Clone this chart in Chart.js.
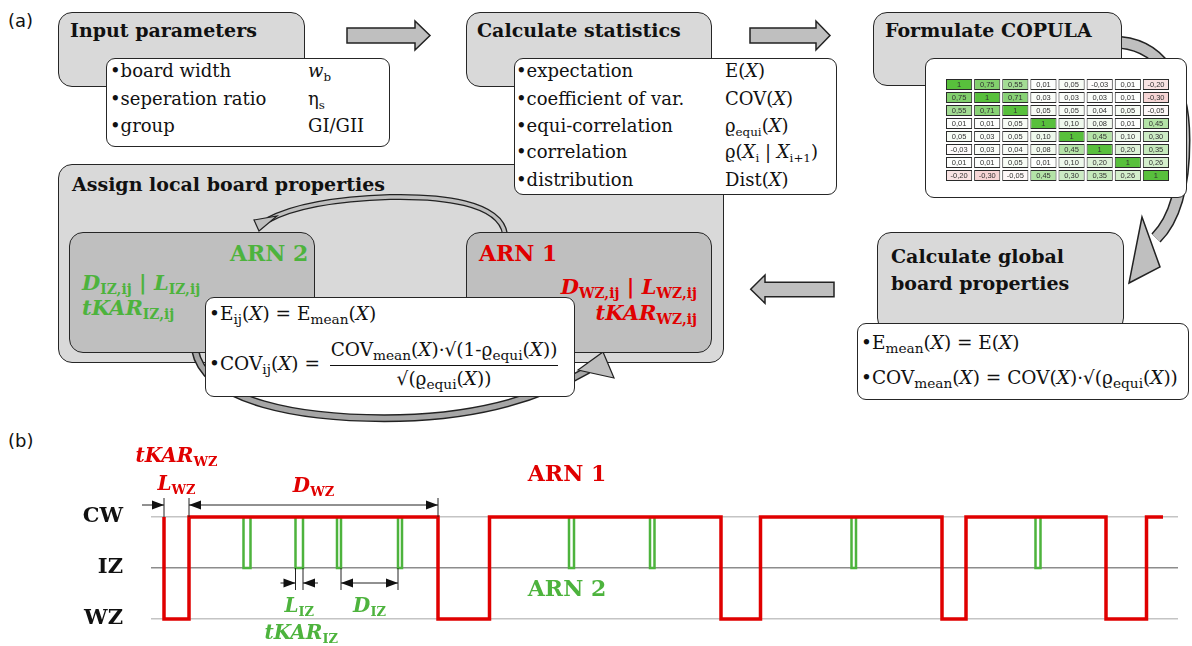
<!DOCTYPE html>
<html>
<head>
<meta charset="utf-8">
<script src="https://cdn.jsdelivr.net/npm/chart.js@4.4.0/dist/chart.umd.min.js"></script>
<style>
  body { margin: 0; background: #fff; }
  #page { position: relative; width: 1192px; height: 646px; overflow: hidden; font-family: "DejaVu Serif", serif; color: #111; }
  .box { position: absolute; box-sizing: border-box; border: 1.5px solid #262626; }
  .gray { background: #d9d9d9; border-radius: 14px; }
  .dark { background: #bfbfbf; border-radius: 14px; }
  .white { background: #fff; border-radius: 9px; }
  .t { position: absolute; white-space: nowrap; line-height: 1; }
  .title { font-weight: bold; font-size: 19px; }
  .li { font-size: 18px; }
  .fx { font-size: 18.5px; }
  .s { font-size: 0.66em; vertical-align: -0.3em; }
  .fx .s { font-size: 0.74em; }
  .i { font-style: italic; }
  .red { color: #e00000; }
  .green { color: #4db33d; }
  .arn { font-weight: bold; font-size: 22px; }
  .var { font-weight: bold; font-size: 21px; }
  .var .v { font-style: italic; }
  .var .s { font-style: normal; }
  .lab { font-family: "DejaVu Sans", sans-serif; font-size: 18px; }
  svg { position: absolute; left: 0; top: 0; }
</style>
</head>
<body>
<div id="page">

  <div class="t lab" style="left:8px;top:12px">(a)</div>
  <div class="t lab" style="left:8px;top:432px">(b)</div>

  <!-- back layer arrows -->
  <svg width="1192" height="646" style="z-index:0">
    <g fill="#bfbfbf" stroke="#222" stroke-width="1.5" stroke-linejoin="miter">
      <polygon points="347,28 415,28 415,21 430,35.5 415,50 415,43 347,43"/>
      <polygon points="750,28 816,28 816,21 830,35.5 816,50 816,43 750,43"/>
      <polygon points="834,282.3 765,282.3 765,275 750.7,289.3 765,303.3 765,296.7 834,296.7"/>
    </g>
    <path d="M1112 42 C1160 42 1184 80 1184 140 C1184 190 1174 220 1156 238" fill="none" stroke="#222" stroke-width="13"/>
    <path d="M1112 42 C1160 42 1184 80 1184 140 C1184 190 1174 220 1156 238" fill="none" stroke="#bfbfbf" stroke-width="10"/>
    <polygon points="1142,217 1129,283 1160,267" fill="#bfbfbf" stroke="#222" stroke-width="1.5"/>
  </svg>

  <!-- Input parameters -->
  <div class="box gray" style="left:58px;top:12px;width:247px;height:75px;z-index:1"></div>
  <div class="t title" style="left:70px;top:21px;z-index:3">Input parameters</div>
  <div class="box white" style="left:106px;top:58px;width:284px;height:89px;z-index:2"></div>
  <div class="t li" style="left:110px;top:62px;z-index:3">•board width</div>
  <div class="t li" style="left:308px;top:62px;z-index:3"><span class="i">w</span><span class="s">b</span></div>
  <div class="t li" style="left:110px;top:90px;z-index:3">•seperation ratio</div>
  <div class="t li" style="left:308px;top:90px;z-index:3">η<span class="s">s</span></div>
  <div class="t li" style="left:110px;top:117px;z-index:3">•group</div>
  <div class="t li" style="left:308px;top:117px;z-index:3">GI/GII</div>

  <!-- Calculate statistics -->
  <div class="box gray" style="left:466px;top:12px;width:246px;height:75px;z-index:1"></div>
  <div class="t title" style="left:477px;top:21px;z-index:3">Calculate statistics</div>

  <!-- Assign local board properties -->
  <div class="box gray" style="left:58px;top:164px;width:666px;height:199px;z-index:1"></div>
  <div class="t title" style="left:72px;top:175px;z-index:3">Assign local board properties</div>

  <div class="box white" style="left:514px;top:58px;width:323px;height:137px;z-index:4"></div>
  <div class="t li" style="left:516px;top:62px;z-index:5">•expectation</div>
  <div class="t li" style="left:725px;top:62px;z-index:5">E(<span class="i">X</span>)</div>
  <div class="t li" style="left:516px;top:90px;z-index:5">•coefficient of var.</div>
  <div class="t li" style="left:725px;top:90px;z-index:5">COV(<span class="i">X</span>)</div>
  <div class="t li" style="left:516px;top:117px;z-index:5">•equi-correlation</div>
  <div class="t li" style="left:725px;top:117px;z-index:5">ϱ<span class="s">equi</span>(<span class="i">X</span>)</div>
  <div class="t li" style="left:516px;top:143px;z-index:5">•correlation</div>
  <div class="t li" style="left:725px;top:143px;z-index:5">ϱ(<span class="i">X</span><span class="s">i</span> | <span class="i">X</span><span class="s">i+1</span>)</div>
  <div class="t li" style="left:516px;top:171px;z-index:5">•distribution</div>
  <div class="t li" style="left:725px;top:171px;z-index:5">Dist(<span class="i">X</span>)</div>

  <!-- loop arrows -->
  <svg width="1192" height="646" style="z-index:2">
    <path d="M505 234 C500 202 440 196 390 197 C330 199 290 208 268 220" fill="none" stroke="#222" stroke-width="6"/>
    <path d="M505 234 C500 202 440 196 390 197 C330 199 290 208 268 220" fill="none" stroke="#bfbfbf" stroke-width="3.5"/>
    <polygon points="254,220 259,231 277,216" fill="#bfbfbf" stroke="#222" stroke-width="1.2"/>
    <path d="M195 350 C205 402 300 420 400 418 C480 416 540 398 588 370" fill="none" stroke="#222" stroke-width="8"/>
    <path d="M195 350 C205 402 300 420 400 418 C480 416 540 398 588 370" fill="none" stroke="#a6a6a6" stroke-width="5"/>
    <polygon points="578,370 603,352 614,378" fill="#bfbfbf" stroke="#222" stroke-width="1.2"/>
  </svg>

  <!-- ARN 2 box -->
  <div class="box dark" style="left:69px;top:232px;width:246px;height:121px;z-index:3"></div>
  <div class="t arn green" style="left:230px;top:242px;z-index:4">ARN 2</div>
  <div class="t var green" style="left:82px;top:272px;z-index:4"><span class="v">D</span><span class="s">IZ,ij</span> | <span class="v">L</span><span class="s">IZ,ij</span></div>
  <div class="t var green" style="left:82px;top:297px;z-index:4"><span class="v">tKAR</span><span class="s">IZ,ij</span></div>

  <!-- ARN 1 box -->
  <div class="box dark" style="left:466px;top:232px;width:246px;height:121px;z-index:3"></div>
  <div class="t arn red" style="left:479px;top:242px;z-index:4">ARN 1</div>
  <div class="t var red" style="right:495px;top:276px;z-index:4"><span class="v">D</span><span class="s">WZ,ij</span> | <span class="v">L</span><span class="s">WZ,ij</span></div>
  <div class="t var red" style="right:495px;top:302px;z-index:4"><span class="v">tKAR</span><span class="s">WZ,ij</span></div>

  <!-- formula box -->
  <div class="box white" style="left:205px;top:297px;width:370px;height:100px;z-index:5"></div>
  <div class="t fx" style="left:209px;top:305px;z-index:6">•E<span class="s">ij</span>(<span class="i">X</span>) = E<span class="s">mean</span>(<span class="i">X</span>)</div>
  <div class="t fx" style="left:209px;top:355px;z-index:6">•COV<span class="s">ij</span>(<span class="i">X</span>) =</div>
  <div class="t fx" style="left:326px;width:236px;text-align:center;top:341px;z-index:6">COV<span class="s">mean</span>(<span class="i">X</span>)·√(1-ϱ<span class="s">equi</span>(<span class="i">X</span>))</div>
  <div style="position:absolute;left:330px;top:365px;width:228px;height:1.4px;background:#111;z-index:6"></div>
  <div class="t fx" style="left:330px;width:228px;text-align:center;top:370px;z-index:6">√(ϱ<span class="s">equi</span>(<span class="i">X</span>))</div>

  <!-- Formulate COPULA -->
  <div class="box gray" style="left:873px;top:12px;width:249px;height:74px;z-index:1"></div>
  <div class="t title" style="left:885px;top:21px;z-index:3">Formulate COPULA</div>
  <div class="box white" style="left:925px;top:58px;width:262px;height:140px;z-index:2"></div>
  <canvas id="copula" width="225" height="104" style="position:absolute;left:945px;top:78px;z-index:3"></canvas>

  <!-- Calculate global board properties -->
  <div class="box gray" style="left:877px;top:232px;width:247px;height:100px;z-index:1"></div>
  <div class="t title" style="left:891px;top:247px;z-index:3">Calculate global</div>
  <div class="t title" style="left:891px;top:274px;z-index:3">board properties</div>
  <div class="box white" style="left:857px;top:323px;width:332px;height:77px;z-index:2"></div>
  <div class="t fx" style="left:861px;top:334px;z-index:3">•E<span class="s">mean</span>(<span class="i">X</span>) = E(<span class="i">X</span>)</div>
  <div class="t fx" style="left:861px;top:369px;z-index:3">•COV<span class="s">mean</span>(<span class="i">X</span>) = COV(<span class="i">X</span>)·√(ϱ<span class="s">equi</span>(<span class="i">X</span>))</div>

  <canvas id="zones" width="1192" height="246" style="position:absolute;left:0;top:400px;z-index:7"></canvas>
</div>

<script>
// (b) zone sequence along the board
var zoneLabels = ["WZ", "IZ", "CW"];
// ARN 1: position where the red line switches, and the zone it switches to
var arn1Pos  = [13, 13, 38, 287, 338.5, 570, 609.5, 791, 815, 955, 995.5, 1012];
var arn1Zone = [2, 0, 2, 0, 2, 0, 2, 0, 2, 0, 2, 2];
// ARN 2: knots in the intermediate zone (start / end)
var arn2Start = [92.5, 144.5, 186, 247, 418, 499, 700.5, 884.5];
var arn2End   = [99.5, 152, 190, 251, 423, 503.5, 705, 889.5];

// (a) copula correlation matrix
var copula = [
    [1, 0.75, 0.55, 0.01, 0.05, -0.03, 0.01, -0.20],
    [0.75, 1, 0.71, 0.03, 0.03, 0.03, 0.01, -0.30],
    [0.55, 0.71, 1, 0.05, 0.05, 0.04, 0.05, -0.05],
    [0.01, 0.01, 0.05, 1, 0.10, 0.08, 0.01, 0.45],
    [0.05, 0.03, 0.05, 0.10, 1, 0.45, 0.10, 0.30],
    [-0.03, 0.03, 0.04, 0.08, 0.45, 1, 0.20, 0.35],
    [0.01, 0.01, 0.05, 0.01, 0.10, 0.20, 1, 0.26],
    [-0.20, -0.30, -0.05, 0.45, 0.30, 0.35, 0.26, 1]
];
var copulaCols = ["1", "2", "3", "4", "5", "6", "7", "8"];

const RED = "#e00000";
const GREEN = "#4db33d";

function cellColor(v) {
    if (v >= 0) {
        const r = Math.round(255 - v * (255 - 88));
        const g = Math.round(255 - v * (255 - 192));
        const b = Math.round(255 - v * (255 - 60));
        return "rgb(" + r + "," + g + "," + b + ")";
    }
    const a = -v;
    return "rgb(" + Math.round(255 - a * 30) + "," + Math.round(255 - a * 140) + "," + Math.round(255 - a * 140) + ")";
}

function cellText(v) {
    if (v === 1) return "1";
    return v.toFixed(2).replace(".", ",");
}

const cellLabels = {
    id: "cellLabels",
    afterDatasetsDraw(chart) {
        const ctx = chart.ctx;
        ctx.save();
        ctx.font = '7.5px "Liberation Sans"';
        ctx.fillStyle = "#333";
        ctx.textAlign = "center";
        ctx.textBaseline = "middle";
        chart.data.datasets.forEach(function (ds, r) {
            chart.getDatasetMeta(r).data.forEach(function (bar, c) {
                ctx.fillText(cellText(copula[r][c]), bar.x, (bar.y + bar.base) / 2 + 0.5);
            });
        });
        ctx.restore();
    }
};

new Chart(document.getElementById("copula"), {
    type: "bar",
    data: {
        labels: copulaCols,
        datasets: copula.map(function (row, r) {
            return {
                data: row.map(function () { return [7 - r + 0.07, 8 - r - 0.07]; }),
                backgroundColor: row.map(cellColor),
                borderColor: "#2a2a2a",
                borderWidth: 1,
                borderSkipped: false,
                barPercentage: 0.93,
                categoryPercentage: 1,
                grouped: false
            };
        })
    },
    options: {
        responsive: false,
        animation: false,
        devicePixelRatio: 1,
        plugins: { legend: { display: false }, tooltip: { enabled: false } },
        scales: {
            x: { display: false },
            y: { display: false, min: 0, max: 8 }
        }
    },
    plugins: [cellLabels]
});

// green knots: down into IZ and back up
var arn2Points = [];
for (let i = 0; i < arn2Start.length; i++) {
    arn2Points.push({ x: arn2Start[i], y: 2 });
    arn2Points.push({ x: arn2Start[i], y: 1 });
    arn2Points.push({ x: arn2End[i], y: 2 });
    arn2Points.push({ x: arn2End[i], y: null });
}

function subLabel(ctx, main, sub, cx, cy, color) {
    const mainFont = 'italic bold 20px "DejaVu Serif"';
    const subFont = 'bold 13px "DejaVu Serif"';
    ctx.font = mainFont;
    const w1 = ctx.measureText(main).width;
    ctx.font = subFont;
    const w2 = ctx.measureText(sub).width;
    const x0 = cx - (w1 + w2) / 2;
    ctx.fillStyle = color;
    ctx.textAlign = "left";
    ctx.textBaseline = "alphabetic";
    ctx.font = mainFont;
    ctx.fillText(main, x0, cy + 7);
    ctx.font = subFont;
    ctx.fillText(sub, x0 + w1, cy + 11);
}

function head(ctx, x, y, dir) {
    ctx.beginPath();
    ctx.moveTo(x, y);
    ctx.lineTo(x - dir * 12, y - 4.5);
    ctx.lineTo(x - dir * 12, y + 4.5);
    ctx.closePath();
    ctx.fill();
}

function hline(ctx, x1, x2, y) {
    ctx.beginPath();
    ctx.moveTo(x1, y);
    ctx.lineTo(x2, y);
    ctx.stroke();
}

function vline(ctx, x, y1, y2) {
    ctx.beginPath();
    ctx.moveTo(x, y1);
    ctx.lineTo(x, y2);
    ctx.stroke();
}

const dims = {
    id: "dims",
    afterDatasetsDraw(chart) {
        const ctx = chart.ctx;
        const xs = chart.scales.x, ys = chart.scales.y;
        const yCW = ys.getPixelForValue(2), yIZ = ys.getPixelForValue(1);
        ctx.save();
        ctx.strokeStyle = "#222";
        ctx.fillStyle = "#111";
        ctx.lineWidth = 1;

        // WZ length / distance
        const xL = xs.getPixelForValue(arn1Pos[1]);
        const xR = xs.getPixelForValue(arn1Pos[2]);
        const xD = xs.getPixelForValue(arn1Pos[3]);
        const yd = yCW - 12;
        [xL, xR, xD].forEach(function (x) { vline(ctx, x, yd - 7, yCW); });
        hline(ctx, xL - 22, xL, yd);
        head(ctx, xL, yd, 1);
        hline(ctx, xR, xD, yd);
        head(ctx, xR, yd, -1);
        head(ctx, xD, yd, 1);

        // IZ length / distance
        const a = xs.getPixelForValue(arn2Start[1]);
        const b = xs.getPixelForValue(arn2End[1]);
        const c = xs.getPixelForValue(arn2End[2]);
        const d = xs.getPixelForValue(arn2Start[3]);
        const yi = yIZ + 15;
        [a, b, c, d].forEach(function (x) { vline(ctx, x, yIZ, yi + 7); });
        hline(ctx, a - 15, a, yi);
        head(ctx, a, yi, 1);
        hline(ctx, b, b + 15, yi);
        head(ctx, b, yi, -1);
        hline(ctx, c, d, yi);
        head(ctx, c, yi, -1);
        head(ctx, d, yi, 1);

        subLabel(ctx, "tKAR", "WZ", (xL + xR) / 2, yCW - 62, RED);
        subLabel(ctx, "L", "WZ", (xL + xR) / 2, yCW - 34, RED);
        subLabel(ctx, "D", "WZ", (xR + xD) / 2, yCW - 32, RED);
        subLabel(ctx, "L", "IZ", (a + b) / 2, yIZ + 37, GREEN);
        subLabel(ctx, "D", "IZ", (c + d) / 2, yIZ + 37, GREEN);
        subLabel(ctx, "tKAR", "IZ", (a + b) / 2 + 2, yIZ + 64, GREEN);

        ctx.font = 'bold 22px "DejaVu Serif"';
        ctx.textAlign = "center";
        ctx.textBaseline = "middle";
        const xArn = xs.getPixelForValue(arn2Start[4]) - 2;
        ctx.fillStyle = RED;
        ctx.fillText("ARN 1", xArn, yCW - 42);
        ctx.fillStyle = GREEN;
        ctx.fillText("ARN 2", xArn, yIZ + 22);
        ctx.restore();
    }
};

new Chart(document.getElementById("zones"), {
    type: "line",
    data: {
        datasets: [
            {
                label: "ARN 1",
                data: arn1Pos.map(function (x, i) { return { x: x, y: arn1Zone[i] }; }),
                borderColor: RED,
                borderWidth: 3.5,
                stepped: "before",
                pointRadius: 0,
                fill: false,
                clip: false,
                borderJoinStyle: "miter"
            },
            {
                label: "ARN 2",
                data: arn2Points,
                borderColor: GREEN,
                borderWidth: 2.5,
                stepped: "before",
                pointRadius: 0,
                fill: false,
                clip: false,
                spanGaps: false,
                borderJoinStyle: "miter"
            }
        ]
    },
    options: {
        responsive: false,
        animation: false,
        devicePixelRatio: 1,
        layout: { padding: { top: 117, bottom: 27, left: 0, right: 14 } },
        plugins: { legend: { display: false }, tooltip: { enabled: false } },
        scales: {
            x: { type: "linear", min: 0, max: 1027, display: false },
            y: {
                min: 0,
                max: 2,
                afterFit: function (scale) {
                    scale.width = 151;
                    scale.paddingTop = 0;
                    scale.paddingBottom = 0;
                },
                border: { display: false },
                grid: {
                    drawTicks: false,
                    lineWidth: 1.5,
                    color: function (c) { return c.tick && c.tick.value === 1 ? "#8c8c8c" : "#c4c4c4"; }
                },
                ticks: {
                    stepSize: 1,
                    padding: 28,
                    color: "#111",
                    font: { family: "DejaVu Serif", weight: "bold", size: 21 },
                    callback: function (v) { return zoneLabels[v]; }
                }
            }
        }
    },
    plugins: [dims]
});
</script>
</body>
</html>
